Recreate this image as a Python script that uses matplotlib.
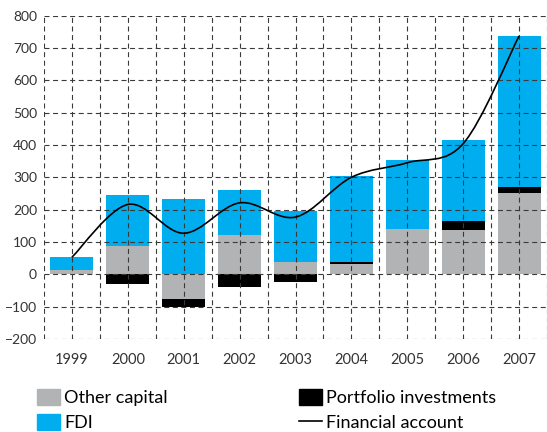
import numpy as np
import matplotlib
matplotlib.use("Agg")
import matplotlib.pyplot as plt
from matplotlib.path import Path
from matplotlib.patches import PathPatch, Patch
from matplotlib.lines import Line2D

plt.rcParams['font.family'] = ['Lato', 'DejaVu Sans']

# data
years = ['1999', '2000', '2001', '2002', '2003', '2004', '2005', '2006', '2007']
other_capital = [12, 88, -77, 122, 38, 33, 140, 136, 252]
portfolio = [0, -30, -25, -40, -24, 5, 0, 29, 17]
fdi = [41, 157, 232, 138, 159, 266, 213, 250, 468]
financial_account = [53, 216, 127, 221, 177, 300, 345, 404, 737]

yticks = [-200, -100, 0, 100, 200, 300, 400, 500, 600, 700, 800]

c_gray = '#b1b3b5'
c_black = '#000000'
c_blue = '#00aeef'

fig = plt.figure(figsize=(5.47, 4.32), dpi=100)
W, H = 547, 432
ax = fig.add_axes([44 / W, 1 - 339 / H, (W - 44) / W, (339 - 15.6) / H])

x = np.arange(len(years))
pos_base = np.zeros(len(years))
neg_base = np.zeros(len(years))
for vals, col in [(other_capital, c_gray), (portfolio, c_black), (fdi, c_blue)]:
    v = np.array(vals, dtype=float)
    bottom = np.where(v >= 0, pos_base, neg_base)
    ax.bar(x, v, 0.77, bottom=bottom, color=col, zorder=1, linewidth=0)
    pos_base = pos_base + np.where(v >= 0, v, 0)
    neg_base = neg_base + np.where(v < 0, v, 0)

# smooth line (bezier through the points, like the excel smoothing)
p = np.column_stack([x, financial_account]).astype(float)
pp = np.vstack([p[0], p, p[-1]])
verts = [p[0]]
codes = [Path.MOVETO]
for i in range(len(p) - 1):
    c1 = pp[i + 1] + (pp[i + 2] - pp[i]) / 6.0
    c2 = pp[i + 2] - (pp[i + 3] - pp[i + 1]) / 6.0
    verts += [c1, c2, p[i + 1]]
    codes += [Path.CURVE4] * 3
ax.add_patch(PathPatch(Path(verts, codes), fill=False, edgecolor='black',
                       linewidth=1.2, zorder=3))

ax.set_xlim(-0.5, 8.45)
ax.set_ylim(-200, 800)
ax.set_yticks(yticks)
ax.set_xticks(x)
ax.set_xticklabels(years)
ax.set_xticks(np.arange(-0.5, 8.6, 1), minor=True)

dash = (0, (4.5, 3.2))
ax.grid(True, which='major', color='#3a3a3a', linewidth=0.8, linestyle=dash, zorder=2)
ax.grid(True, which='minor', axis='x', color='#3a3a3a', linewidth=0.8, linestyle=dash, zorder=2)
ax.set_axisbelow(False)
for s in ax.spines.values():
    s.set_visible(False)
ax.tick_params(which='both', length=0, colors='#333333')
ax.tick_params(axis='y', pad=5, labelsize=10)
ax.tick_params(axis='x', pad=10, labelsize=10.5)

# legends
leg_kw = dict(frameon=False, fontsize=13, handlelength=1.3, handleheight=0.95,
              handletextpad=0.2, labelspacing=0.45, borderpad=0, borderaxespad=0,
              loc='upper left')
fig.legend([Patch(color=c_gray), Patch(color=c_blue)], ['Other capital', 'FDI'],
           bbox_to_anchor=(37 / W, 1 - 389 / H), **leg_kw)
fig.legend([Patch(color=c_black), Line2D([], [], color='black', linewidth=1.2)],
           ['Portfolio investments', 'Financial account'],
           bbox_to_anchor=(299 / W, 1 - 389 / H), **leg_kw)

fig.savefig('out.png', dpi=100)
